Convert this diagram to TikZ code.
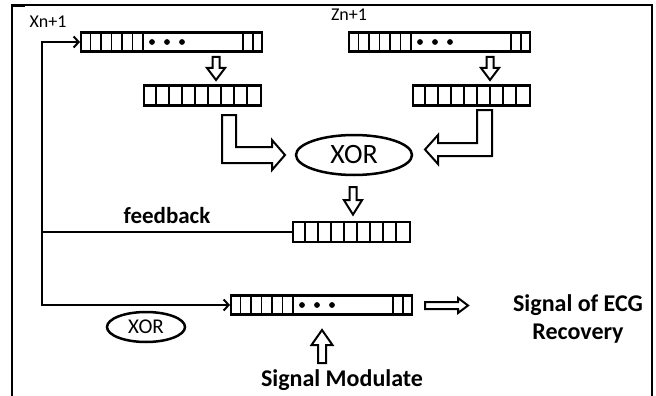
\documentclass[tikz,border=0pt]{standalone}
\usepackage{fontspec}
\setmainfont{Carlito}
\usetikzlibrary{arrows.meta,positioning,shapes.geometric,calc}

\tikzset{
  ecg/reg/.style={draw, line width=2.2pt, inner sep=0pt, anchor=west, minimum height=20pt},
  ecg/cell/.style={line width=1.7pt},
  ecg/xor/.style={ellipse, draw, line width=2.5pt, inner sep=0pt},
  ecg/line/.style={line width=2pt},
  ecg/arrow/.style={line width=2pt, -{Straight Barb[length=5pt,width=11pt]}},
  ecg/hollow/.style={draw, line width=2pt, fill=white, line join=miter},
  ecg/name/.style={font=\fontsize{18}{20}\selectfont},
  ecg/title/.style={font=\fontsize{24}{28}\selectfont\bfseries, align=center},
  pics/ecgdown/.style={code={
    \draw[ecg/hollow] (-3.5,0) -- (3.5,0) -- (3.5,11) -- (9,11) -- (0,23) -- (-9,11) -- (-3.5,11) -- cycle;
  }}
}

\begin{document}
\begin{tikzpicture}[x=1pt,y=-1pt]
  \useasboundingbox (0,0) rectangle (656,396);
  % frame
  \draw[line width=1.6pt] (12,396) -- (12,5) -- (652,5) -- (652,396);
  \draw[line width=3pt] (12,5.8) -- (25,5.8);

  % shift registers
  \node[ecg/reg, minimum width=181pt, minimum height=19pt] (xreg) at (80,42) {};
  \node[ecg/reg, minimum width=181pt, minimum height=19pt] (zreg) at (348,42) {};
  \node[ecg/reg, minimum width=117pt] (xsub) at (143,95.5) {};
  \node[ecg/reg, minimum width=117pt] (zsub) at (412,95.5) {};
  \node[ecg/reg, minimum width=117pt] (keyreg) at (292,232) {};
  \node[ecg/reg, minimum width=181pt, minimum height=19pt] (sigreg) at (230,305) {};

  \foreach \r in {xreg,zreg,sigreg}{
    \foreach \k in {1,...,6}
      \draw[ecg/cell] ([xshift=\k*10.5]\r.north west) -- ([xshift=\k*10.5]\r.south west);
    \foreach \d in {72,87,102}
      \fill ([xshift=\d]\r.west) circle (2.9);
    \foreach \d in {20,10}
      \draw[ecg/cell] ([xshift=-\d]\r.north east) -- ([xshift=-\d]\r.south east);
  }
  \foreach \r in {xsub,zsub,keyreg}
    \foreach \k in {1,...,8}
      \draw[ecg/cell] ([xshift=\k*13]\r.north west) -- ([xshift=\k*13]\r.south west);

  % labels
  \node[ecg/name] (xlab) at (48,22) {Xn+1};
  \node[ecg/name] (zlab) at (349,15) {Zn+1};

  % XOR units
  \node[ecg/xor, minimum width=116pt, minimum height=40pt, font=\fontsize{28}{30}\selectfont] (xor) at (354,155) {XOR};
  \node[ecg/xor, minimum width=78pt, minimum height=30pt, font=\fontsize{21}{23}\selectfont] (xorb) at (146,327) {XOR};

  % hollow arrows
  \pic at (216,57) {ecgdown};
  \pic at (490,57) {ecgdown};
  \pic[yscale=1.2] at (353,187) {ecgdown};
  \draw[ecg/hollow] (222,115) -- (236,115) -- (236,147) -- (272,147) -- (272,140) -- (285,155) -- (272,170) -- (272,163) -- (222,163) -- cycle;
  \draw[ecg/hollow] (492,110) -- (477,110) -- (477,143) -- (438,143) -- (438,135) -- (425,149.5) -- (438,164) -- (438,156) -- (492,156) -- cycle;
  \draw[ecg/hollow] (318,363) -- (326,363) -- (326,345) -- (332.5,345) -- (322,330) -- (311.5,345) -- (318,345) -- cycle;
  \draw[ecg/hollow] (425,302) -- (458,302) -- (458,298) -- (468,305.5) -- (458,313) -- (458,309) -- (425,309) -- cycle;

  % feedback wiring
  \coordinate (ctop) at (42,42);
  \coordinate (cbot) at (42,305);
  \draw[ecg/arrow] (keyreg.west) -| (ctop) -- (xreg.west);
  \draw[ecg/arrow] (keyreg.west -| ctop) -- (cbot) -- (sigreg.west);
  \node[ecg/title, font=\fontsize{23}{26}\selectfont\bfseries] (fblab) at (167,216) {feedback};

  \node[ecg/title] (modlab) at (342,380) {Signal Modulate};
  \node[ecg/title] (outlab) at (578,319) {Signal of ECG\\Recovery};
\end{tikzpicture}
\end{document}
